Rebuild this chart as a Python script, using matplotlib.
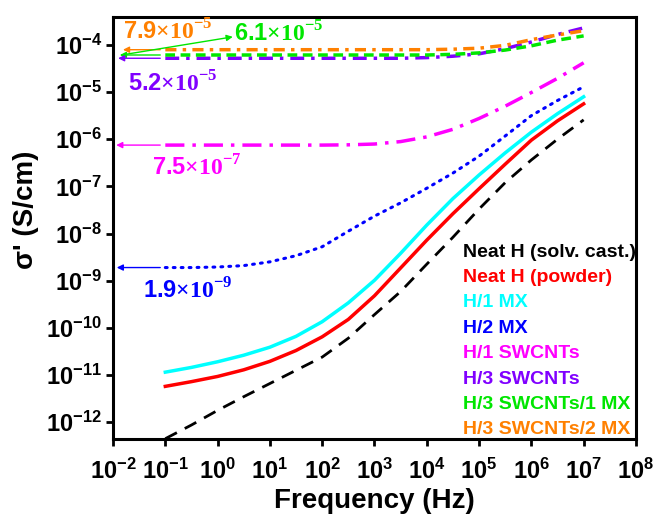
import matplotlib
matplotlib.use('Agg')
import matplotlib.pyplot as plt
import numpy as np

plt.rcParams['font.family'] = ['Liberation Sans', 'DejaVu Sans']
plt.rcParams['font.weight'] = 'bold'
plt.rcParams['mathtext.fontset'] = 'custom'
plt.rcParams['mathtext.rm'] = 'Liberation Serif'
plt.rcParams['mathtext.bf'] = 'Liberation Sans:bold'

# frequency grid, half a decade apart, 0.1 Hz .. 10 MHz
freq = [1e-1, 3.16e-1, 1e0, 3.16e0, 1e1, 3.16e1, 1e2, 3.16e2, 1e3, 3.16e3,
        1e4, 3.16e4, 1e5, 3.16e5, 1e6, 3.16e6, 1e7]

# DC plateau values used for the arrow labels
dc_h2mx = 1.9e-9
dc_h1swcnt = 7.5e-7
dc_h3swcnt = 5.2e-5
dc_h3swcnt_1mx = 6.1e-5
dc_h3swcnt_2mx = 7.9e-5

sig_neat_cast = [4.47e-13, 8.71e-13, 1.78e-12, 3.47e-12, 6.61e-12, 1.26e-11, 2.40e-11, 6.03e-11,
                 1.91e-10, 5.89e-10, 2.24e-9, 8.32e-9, 3.31e-8, 1.20e-7, 3.63e-7, 1.0e-6, 2.57e-6]
sig_neat_powder = [5.75e-12, 7.24e-12, 9.33e-12, 1.29e-11, 1.95e-11, 3.31e-11, 6.46e-11, 1.51e-10,
                   4.79e-10, 1.86e-9, 7.24e-9, 2.63e-8, 8.91e-8, 2.95e-7, 9.55e-7, 2.45e-6, 5.62e-6]
sig_h1mx = [1.15e-11, 1.45e-11, 1.91e-11, 2.63e-11, 3.89e-11, 6.61e-11, 1.35e-10, 3.39e-10,
            1.02e-9, 3.80e-9, 1.51e-8, 5.50e-8, 1.74e-7, 5.13e-7, 1.41e-6, 3.47e-6, 7.94e-6]
sig_h2mx = [dc_h2mx, dc_h2mx, 1.95e-9, 2.09e-9, 2.51e-9, 3.39e-9, 5.25e-9, 1.12e-8,
            2.34e-8, 4.47e-8, 9.12e-8, 1.91e-7, 4.37e-7, 1.17e-6, 3.16e-6, 6.61e-6, 1.29e-5]
sig_h1swcnt = [dc_h1swcnt] * 7 + [7.6e-7, 7.9e-7, 8.9e-7, 1.12e-6, 1.62e-6, 2.75e-6,
                                  5.01e-6, 9.77e-6, 1.95e-5, 4.17e-5]
sig_h3swcnt = [dc_h3swcnt] * 10 + [5.37e-5, 5.75e-5, 6.46e-5, 8.32e-5, 1.15e-4, 1.66e-4, 2.29e-4]
sig_h3swcnt_1mx = [dc_h3swcnt_1mx] * 11 + [6.3e-5, 6.76e-5, 7.76e-5, 9.55e-5, 1.26e-4, 1.55e-4]
sig_h3swcnt_2mx = [dc_h3swcnt_2mx] * 11 + [8.1e-5, 8.5e-5, 9.77e-5, 1.29e-4, 1.62e-4, 2.0e-4]

labels = ['Neat H (solv. cast.)', 'Neat H (powder)', 'H/1 MX', 'H/2 MX',
          'H/1 SWCNTs', 'H/3 SWCNTs', 'H/3 SWCNTs/1 MX', 'H/3 SWCNTs/2 MX']
colors = ['black', '#ff0000', '#00ffff', '#0000ff', '#ff00ff', '#8000ff', '#00e600', '#ff8000']

fig = plt.figure(figsize=(6.59, 5.23), dpi=100)
ax = fig.add_axes([0.1715, 0.1606, 0.7935, 0.8069])

ax.plot(freq, sig_neat_cast, color=colors[0], lw=2, linestyle=(0, (4.7, 3.2)), label=labels[0])
ax.plot(freq, sig_neat_powder, color=colors[1], lw=2.5, label=labels[1])
ax.plot(freq, sig_h1mx, color=colors[2], lw=2.5, label=labels[2])
ax.plot(freq, sig_h2mx, color=colors[3], lw=2.2, linestyle=(0, (0.6, 2.0)),
        dash_capstyle='round', label=labels[3])
ax.plot(freq, sig_h1swcnt, color=colors[4], lw=2.5, linestyle=(0, (5.5, 2.3, 1.0, 2.3)), label=labels[4])
ax.plot(freq, sig_h3swcnt, color=colors[5], lw=2.5, linestyle=(0, (4.0, 2.0, 1.0, 2.0)), label=labels[5])
ax.plot(freq, sig_h3swcnt_1mx, color=colors[6], lw=2.5, linestyle=(0, (2.8, 1.6)), label=labels[6])
ax.plot(freq, sig_h3swcnt_2mx, color=colors[7], lw=2.5, linestyle=(0, (3.2, 1.8, 1.0, 1.8)), label=labels[7])

ax.set_xscale('log')
ax.set_yscale('log')
ax.set_xlim(1e-2, 1e8)
ax.set_ylim(4.4e-13, 3.9e-4)
ax.set_xticks([10.0 ** k for k in range(-2, 9)])
ax.set_yticks([10.0 ** k for k in range(-12, -3)])
ax.xaxis.set_minor_locator(matplotlib.ticker.NullLocator())
ax.yaxis.set_minor_locator(matplotlib.ticker.NullLocator())
ax.set_xticklabels([r'$\mathbf{10^{%d}}$' % k for k in range(-2, 9)])
ax.set_yticklabels([r'$\mathbf{10^{%d}}$' % k for k in range(-12, -3)])
ax.tick_params(labelsize=17, width=2, length=5, direction='out')
ax.tick_params(axis='x', pad=9)
ax.tick_params(axis='y', pad=3)
for s in ax.spines.values():
    s.set_linewidth(2.2)

ax.set_xlabel('Frequency (Hz)', fontsize=20, fontweight='bold', labelpad=3)
ax.set_ylabel("σ' (S/cm)", fontsize=20, fontweight='bold')
ax.yaxis.set_label_coords(-0.142, 0.543)

# arrows pointing the plateau values back to the axis
arrow_kw = dict(arrowstyle='-|>', lw=1, mutation_scale=9, shrinkA=0, shrinkB=0)
for val, c, x0 in [(dc_h3swcnt_2mx, colors[7], 0.0155), (dc_h3swcnt_1mx, colors[6], 0.0135),
                   (dc_h3swcnt, colors[5], 0.0125), (dc_h1swcnt, colors[4], 0.0115),
                   (dc_h2mx, colors[3], 0.0118)]:
    ax.annotate('', xy=(x0, val), xytext=(0.08, val),
                arrowprops=dict(color=c, **arrow_kw))
ax.annotate('', xy=(1.95, 1.48e-4), xytext=(0.0145, dc_h3swcnt_1mx),
            arrowprops=dict(color=colors[6], **arrow_kw))

def value_text(v):
    m, e = ('%.1e' % v).split('e')
    return r'$\mathbf{%s}{\times}\mathrm{10}^{%d}$' % (m, int(e))

ax.text(0.0155, 1.85e-4, value_text(dc_h3swcnt_2mx), color=colors[7], fontsize=17, va='center')
ax.text(2.1, 1.7e-4, value_text(dc_h3swcnt_1mx), color=colors[6], fontsize=17, va='center')
ax.text(0.0195, 1.5e-5, value_text(dc_h3swcnt), color=colors[5], fontsize=17, va='center')
ax.text(0.056, 2.5e-7, value_text(dc_h1swcnt), color=colors[4], fontsize=17, va='center')
ax.text(0.037, 6.2e-10, value_text(dc_h2mx), color=colors[3], fontsize=17, va='center')

leg = ax.legend(loc='lower right', bbox_to_anchor=(1.033, -0.04), frameon=False,
                handlelength=0, handletextpad=0, labelspacing=0.4, labelcolor='linecolor',
                prop={'weight': 'bold', 'size': 14})
for h in leg.legend_handles:
    h.set_visible(False)

fig.savefig('out.png', dpi=100)
